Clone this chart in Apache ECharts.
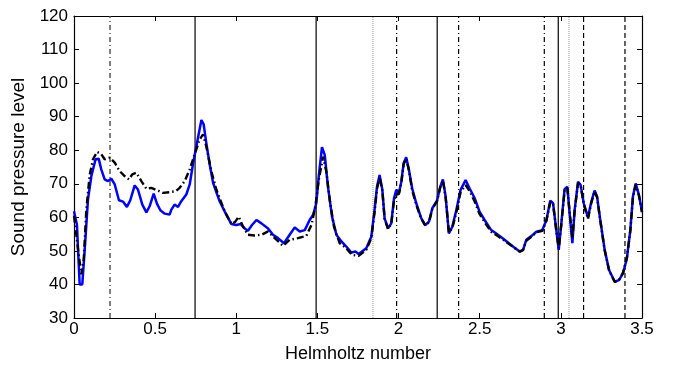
<!DOCTYPE html>
<html><head><meta charset="utf-8">
<script src="https://cdn.jsdelivr.net/npm/echarts@6/dist/echarts.min.js"></script>
<style>html,body{margin:0;padding:0;background:#fff}#c{width:674px;height:371px}</style>
</head><body><div id="c"></div>
<script>
// x-axis tick labels and ranges
var xTicks = [0, 0.5, 1, 1.5, 2, 2.5, 3, 3.5];
var yTicks = [30, 40, 50, 60, 70, 80, 90, 100, 110, 120];

// Blue solid curve
var blueX = [0,0.018,0.035,0.051,0.066,0.086,0.107,0.133,0.152,0.168,0.189,0.209,0.230,0.251,0.277,0.302,0.326,0.347,0.374,0.394,0.421,0.446,0.466,0.491,0.511,0.532,0.559,0.589,0.600,0.620,0.641,0.661,0.692,0.713,0.733,0.754,0.770,0.785,0.799,0.815,0.836,0.857,0.877,0.898,0.929,0.970,1.000,1.027,1.052,1.072,1.097,1.124,1.155,1.196,1.226,1.257,1.294,1.329,1.360,1.391,1.422,1.452,1.473,1.493,1.508,1.528,1.545,1.565,1.590,1.617,1.648,1.678,1.709,1.734,1.754,1.801,1.832,1.852,1.867,1.883,1.900,1.914,1.935,1.955,1.972,1.986,2.002,2.017,2.031,2.047,2.064,2.084,2.109,2.140,2.165,2.187,2.208,2.237,2.257,2.273,2.290,2.310,2.331,2.356,2.382,2.413,2.438,2.469,2.499,2.530,2.571,2.602,2.643,2.705,2.746,2.767,2.787,2.818,2.849,2.886,2.911,2.935,2.952,2.972,2.987,3.003,3.023,3.040,3.054,3.071,3.085,3.106,3.122,3.141,3.167,3.188,3.208,3.223,3.243,3.270,3.297,3.332,3.358,3.383,3.407,3.428,3.444,3.461,3.481,3.500];
var blueY = [61.8,57.8,40,40,50.4,65.3,72.3,77.3,77.5,74.3,71.3,70.8,71.5,69.8,65.1,64.7,63.1,65.1,69.5,68.3,63.8,61.5,63.3,67.1,64.1,62.1,61.1,60.8,62.3,63.8,63.1,64.8,66.8,69.8,75.8,81.2,85.2,89,87.7,82.2,75.8,70.3,67.5,64.7,61.7,58.0,57.7,58.0,56.7,56.0,57.7,59.2,58.2,56.7,54.8,53.8,52.3,54.8,57.0,55.8,56.2,59.2,60.7,64.2,72.1,80.9,78.6,69.1,60.2,54.8,52.8,51.3,49.5,49.8,49.1,50.8,54.2,62.2,69.1,72.6,68.2,59.7,56.7,58.2,65.7,68.2,67.2,70.6,76.1,77.9,74.1,68.6,64.2,59.7,57.7,58.7,62.7,65.0,69.1,71.3,66.2,55.2,57.2,62.2,68.2,71.1,68.6,65.7,61.7,59.2,56.2,55.2,53.7,51.3,49.8,50.3,53.3,54.4,55.7,56.2,59.2,65.0,64.2,56.2,50.3,58.2,68.4,69.1,61.2,52.3,62.2,70.6,69.6,64.2,60.0,64.7,68.0,66.2,59.2,50.3,44.3,40.8,41.3,43.3,47.8,56.2,66.2,70.1,66.7,61.7];

// Black dash-dot curve
var blackX = [0,0.025,0.045,0.060,0.076,0.097,0.117,0.142,0.168,0.189,0.220,0.251,0.281,0.312,0.339,0.359,0.384,0.415,0.446,0.476,0.511,0.548,0.589,0.627,0.651,0.682,0.713,0.744,0.774,0.795,0.815,0.846,0.877,0.929,0.970,0.994,1.015,1.042,1.072,1.113,1.155,1.196,1.237,1.288,1.329,1.380,1.432,1.463,1.487,1.508,1.535,1.555,1.576,1.602,1.637,1.678,1.713,1.754,1.801,1.832,1.852,1.867,1.883,1.900,1.914,1.935,1.955,1.972,1.988,2.002,2.017,2.031,2.047,2.064,2.084,2.109,2.140,2.165,2.187,2.208,2.237,2.257,2.273,2.290,2.310,2.331,2.356,2.382,2.413,2.438,2.469,2.499,2.530,2.571,2.602,2.643,2.705,2.746,2.767,2.787,2.818,2.849,2.886,2.911,2.935,2.952,2.972,2.987,3.003,3.023,3.040,3.054,3.071,3.085,3.106,3.122,3.141,3.167,3.188,3.208,3.223,3.243,3.270,3.297,3.332,3.358,3.383,3.407,3.428,3.444,3.461,3.481,3.500];
var blackY = [60.5,50.4,43,47.4,62.3,72.8,77.3,79.5,78.8,77.3,77.8,76.3,73.8,72.3,71.3,72.8,73.3,70.8,68.5,68.8,68.1,67.3,67.5,67.8,68.8,70.8,74.3,78.8,83.2,84.7,81.2,73.8,68.3,61.7,58,58.7,60.2,57.2,54.8,54.6,54.8,55.8,53.8,51.5,53.3,53.8,54.5,57.7,63.2,71.1,78.1,73.6,65.2,57.2,52.3,50.8,48.8,48.5,50.3,53.8,61.5,68.5,72.0,68.0,59.5,56.5,58.0,65.2,66.7,67.0,70.3,75.8,77.5,74.0,68.0,63.7,59.5,57.5,58.5,62.5,64.8,69.0,71.0,66.0,55.5,56.8,61.5,67.5,69.6,67.8,64.7,61.0,58.6,55.7,54.7,53.4,51.2,49.8,50.2,53.0,54.2,55.5,56.0,59.0,64.6,64.0,56.0,50.8,58.0,68.0,68.8,61.5,53.8,62.0,70.3,69.4,64.0,59.5,64.4,67.7,66.0,59.0,50.2,44.2,40.8,41.3,43.5,48.0,56.0,65.8,69.7,66.5,61.5];

// Vertical reference lines (x positions)
var solidLines = [0.746, 1.492, 2.238, 2.984];
var dashDotLines = [1.988, 2.370, 2.898];
var grayDashDotLines = [0.222];
var dashedLines = [3.140, 3.395];
var dottedLines = [1.842, 3.050];

function zip(a, b) { return a.map(function (v, i) { return [v, b[i]]; }); }

var FONT = 'Liberation Sans';
var series = [];
function vlines(xs, style) {
  xs.forEach(function (x) {
    series.push({
      type: 'line', silent: true, symbol: 'none', animation: false,
      data: [[x, yTicks[0]], [x, yTicks[yTicks.length - 1]]],
      lineStyle: style
    });
  });
}
vlines(dottedLines, { color: '#b8b8b8', width: 1.5, type: [1, 1] });
vlines(solidLines, { color: '#000', width: 1.2, type: 'solid' });
vlines(grayDashDotLines, { color: '#555', width: 1.5, type: [5, 3, 1, 3] });
vlines(dashDotLines, { color: '#000', width: 1.2, type: [5, 3, 1, 3] });
vlines(dashedLines, { color: '#000', width: 1.2, type: [5, 3] });

series.push({
  type: 'line', symbol: 'none', animation: false, z: 3,
  data: zip(blueX, blueY),
  lineStyle: { color: '#0000ff', width: 2.5 }
});
series.push({
  type: 'line', symbol: 'none', animation: false, z: 4,
  data: zip(blackX, blackY),
  lineStyle: { color: '#000', width: 2.4, type: [7, 3, 1.5, 3] }
});

var tickStyle = { show: true, inside: true, length: 5, lineStyle: { color: '#000', width: 1 } };
var lineStyle = { show: true, onZero: false, lineStyle: { color: '#000', width: 1.2 } };

var chart = echarts.init(document.getElementById('c'), null, { renderer: 'canvas' });
chart.setOption({
  backgroundColor: '#fff',
  animation: false,
  grid: { left: 74, right: 32, top: 16, bottom: 53, containLabel: false },
  xAxis: [{
    type: 'value', min: xTicks[0], max: xTicks[xTicks.length - 1], interval: 0.5,
    position: 'bottom',
    name: 'Helmholtz number', nameLocation: 'middle', nameGap: 27,
    nameTextStyle: { fontFamily: FONT, fontSize: 18, color: '#000' },
    axisLine: lineStyle, axisTick: tickStyle, splitLine: { show: false },
    axisLabel: { fontFamily: FONT, fontSize: 17, color: '#000', margin: 3 }
  }, {
    type: 'value', min: xTicks[0], max: xTicks[xTicks.length - 1], interval: 0.5,
    position: 'top',
    axisLine: lineStyle, axisTick: tickStyle, splitLine: { show: false },
    axisLabel: { show: false }
  }],
  yAxis: [{
    type: 'value', min: yTicks[0], max: yTicks[yTicks.length - 1], interval: 10,
    position: 'left',
    name: 'Sound pressure level', nameLocation: 'middle', nameGap: 43,
    nameTextStyle: { fontFamily: FONT, fontSize: 19, color: '#000' },
    axisLine: lineStyle, axisTick: tickStyle, splitLine: { show: false },
    axisLabel: { fontFamily: FONT, fontSize: 17, color: '#000', margin: 6 }
  }, {
    type: 'value', min: yTicks[0], max: yTicks[yTicks.length - 1], interval: 10,
    position: 'right',
    axisLine: lineStyle, axisTick: tickStyle, splitLine: { show: false },
    axisLabel: { show: false }
  }],
  series: series
});
</script></body></html>
